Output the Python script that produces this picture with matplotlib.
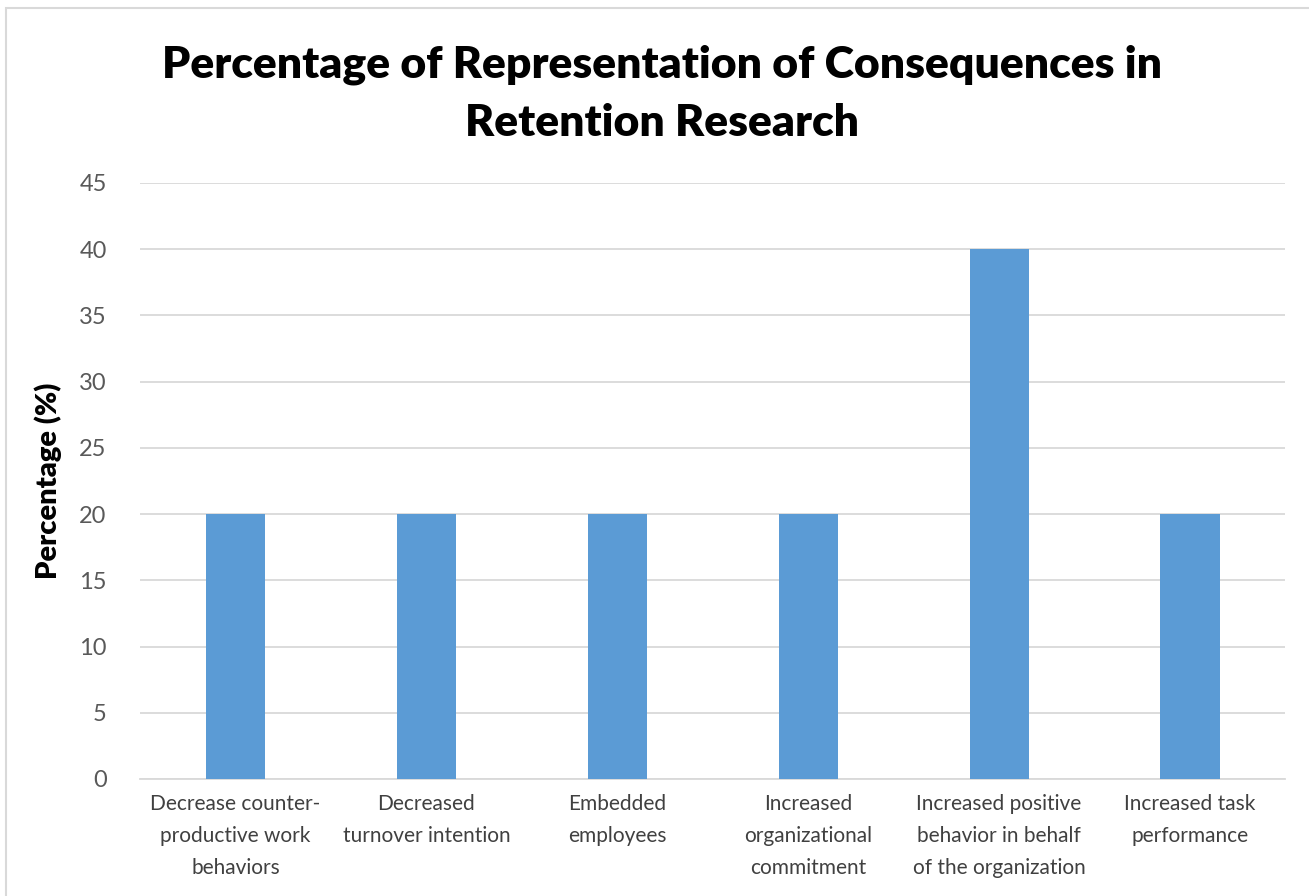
import matplotlib.pyplot as plt
from matplotlib.patches import Rectangle

# consequence categories and their share of the studies
categories = ['Decrease counter-\nproductive work\nbehaviors',
              'Decreased\nturnover intention',
              'Embedded\nemployees',
              'Increased\norganizational\ncommitment',
              'Increased positive\nbehavior in behalf\nof the organization',
              'Increased task\nperformance']
percentages = [20, 20, 20, 20, 40, 20]
yticks = [0, 5, 10, 15, 20, 25, 30, 35, 40, 45]

plt.rcParams['font.family'] = ['Lato', 'DejaVu Sans']

fig = plt.figure(figsize=(13.09, 8.96), dpi=100)
ax = fig.add_axes([0.107, 0.1306, 0.875, 0.6652])

# chart frame
fig.patches.append(Rectangle((6 / 1309, -0.1), 1.2, 1 - 8 / 896 + 0.1,
                             transform=fig.transFigure, fill=False,
                             edgecolor='#d9d9d9', linewidth=1.5))

x = range(len(categories))
ax.bar(x, percentages, width=0.31, color='#5b9bd5', zorder=3)

ax.set_xlim(-0.5, len(categories) - 0.5)
ax.set_ylim(0, 45)
ax.set_yticks(yticks)
ax.set_xticks(list(x))
ax.set_xticklabels(categories, fontsize=15, color='#404040', linespacing=1.75)
ax.tick_params(axis='y', labelsize=17, colors='#595959', length=0, pad=24)
ax.tick_params(axis='x', length=0, pad=11)
ax.yaxis.grid(True, color='#d9d9d9', linewidth=1.3, zorder=0)

for side in ['top', 'right', 'left']:
    ax.spines[side].set_visible(False)
ax.spines['bottom'].set_color('#d9d9d9')
ax.spines['bottom'].set_linewidth(1.3)

ax.set_ylabel('Percentage (%)', fontsize=21, fontweight='heavy', color='black', labelpad=12)

fig.text(0.506, 0.895, 'Percentage of Representation of Consequences in\nRetention Research',
         ha='center', va='center', fontsize=32, fontweight='heavy', linespacing=1.55)

fig.savefig('out.png', dpi=100)
